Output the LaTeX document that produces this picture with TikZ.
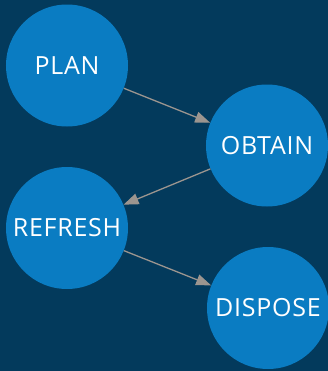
\documentclass[tikz,border=0pt]{standalone}
\usepackage{fontspec}
\setmainfont{Open Sans}
\newfontfamily\stagefont[LetterSpace=3]{Open Sans}
\usetikzlibrary{arrows.meta}
\definecolor{bg}{HTML}{033A5C}
\definecolor{disc}{HTML}{0A7CC2}
\definecolor{conn}{HTML}{9C958F}
\tikzset{
  stage/.style={circle, fill=disc, minimum size=122bp, inner sep=0pt, text=white, font=\stagefont\fontsize{25bp}{30bp}\selectfont},
  flow/.style={draw=conn, line width=1.3bp, -{Triangle[length=15bp,width=11bp]}, shorten >=0pt}
}
\begin{document}
\begin{tikzpicture}[x=1bp,y=-1bp]
\fill[bg] (0,0) rectangle (328,371);
\useasboundingbox (0,0) rectangle (328,371);
\node[stage] (plan) at (67,65.5) {PLAN};
\node[stage] (obtain) at (267,145.5) {OBTAIN};
\node[stage] (refresh) at (67,228) {REFRESH};
\node[stage] (dispose) at (268,308) {DISPOSE};
\draw[flow] (plan) -- (obtain);
\draw[flow] (obtain) -- (refresh);
\draw[flow] (refresh) -- (dispose);
\end{tikzpicture}
\end{document}
